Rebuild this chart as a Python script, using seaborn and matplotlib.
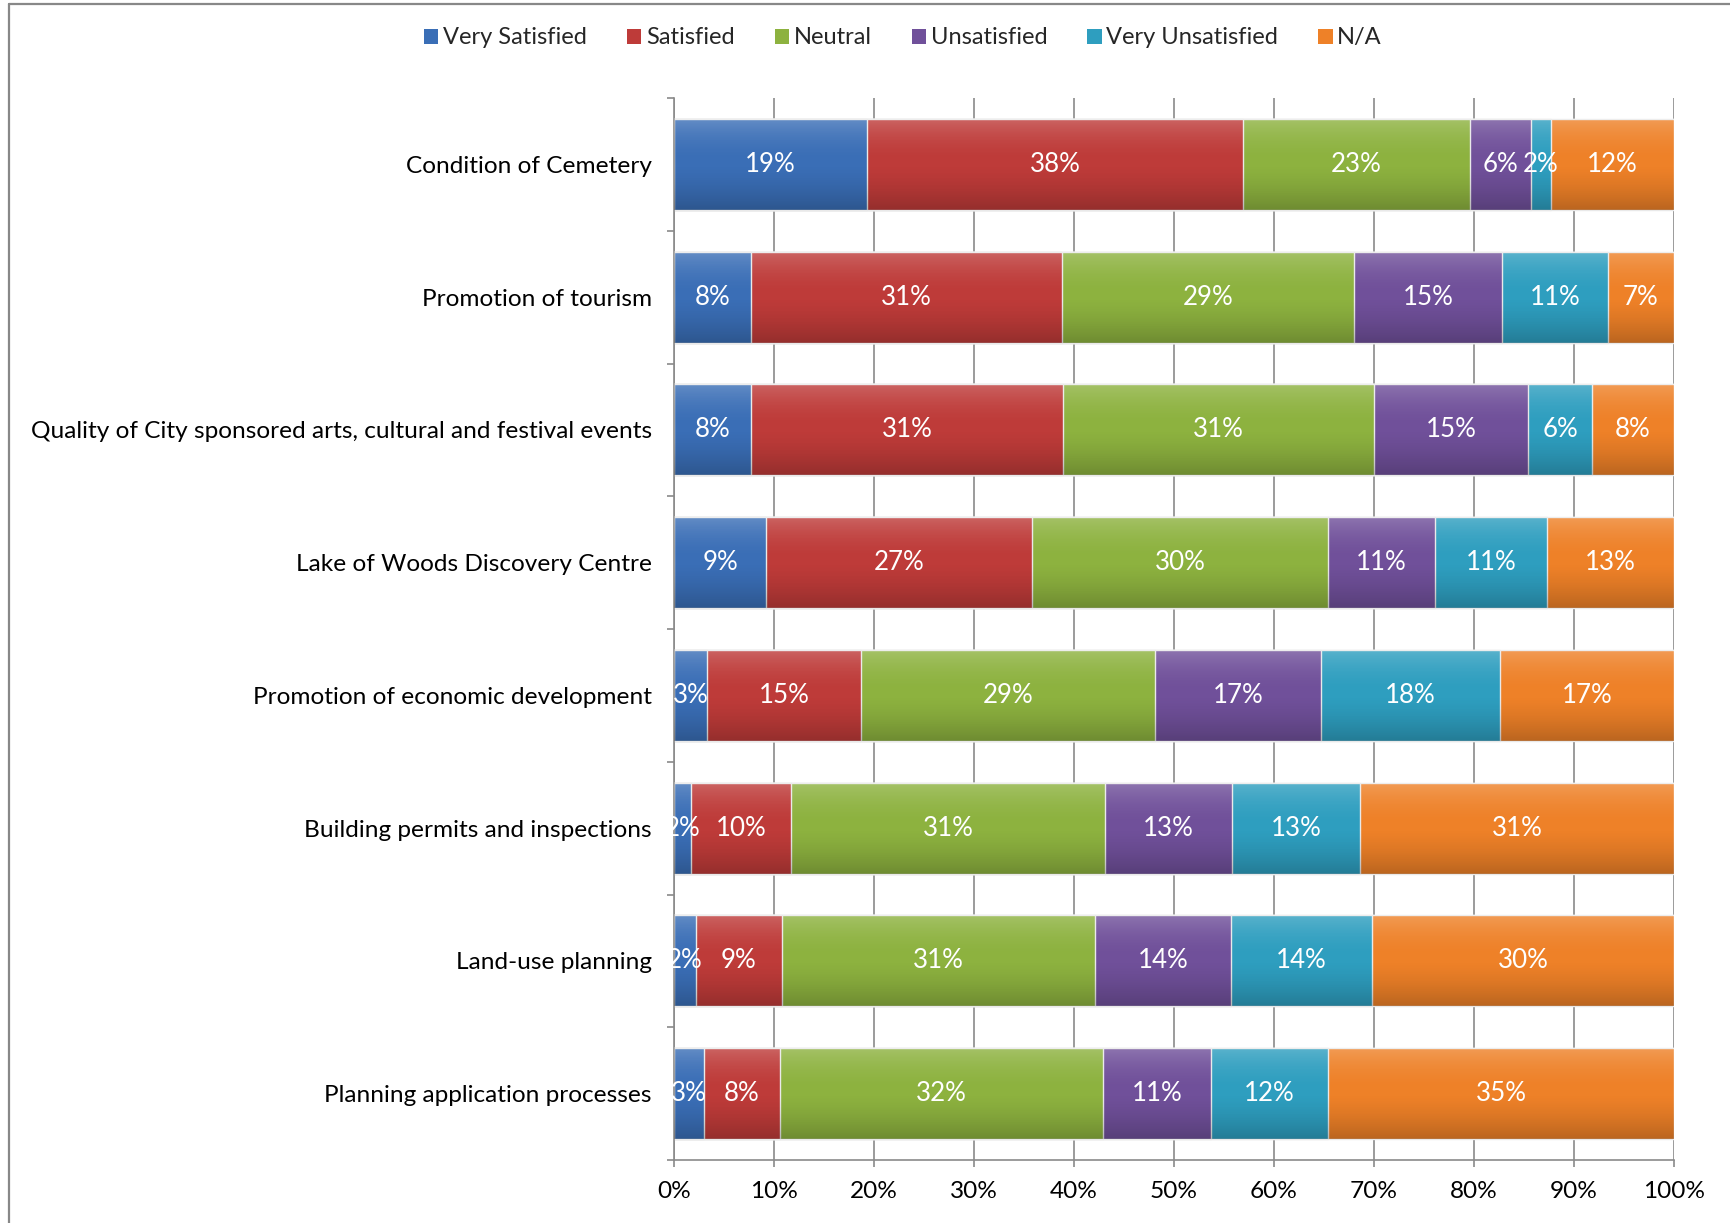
import numpy as np
import pandas as pd
import matplotlib
matplotlib.use("Agg")
import matplotlib.pyplot as plt
from matplotlib.patches import Patch
from matplotlib.lines import Line2D
import seaborn as sns

categories = [
    "Condition of Cemetery",
    "Promotion of tourism",
    "Quality of City sponsored arts, cultural and festival events",
    "Lake of Woods Discovery Centre",
    "Promotion of economic development",
    "Building permits and inspections",
    "Land-use planning",
    "Planning application processes",
]
very_satisfied = [19.3, 7.7, 7.7, 9.2, 3.3, 1.7, 2.2, 3.0]
satisfied = [37.6, 31.1, 31.2, 26.6, 15.4, 10.0, 8.6, 7.6]
neutral = [22.7, 29.2, 31.1, 29.6, 29.4, 31.4, 31.3, 32.3]
unsatisfied = [6.1, 14.8, 15.4, 10.7, 16.6, 12.7, 13.6, 10.8]
very_unsatisfied = [2.0, 10.6, 6.4, 11.2, 17.9, 12.8, 14.1, 11.7]
not_applicable = [12.3, 6.6, 8.2, 12.7, 17.4, 31.4, 30.2, 34.6]

series_names = ["Very Satisfied", "Satisfied", "Neutral", "Unsatisfied",
                "Very Unsatisfied", "N/A"]
series_values = [very_satisfied, satisfied, neutral, unsatisfied,
                 very_unsatisfied, not_applicable]
colors = ["#3A6EB6", "#BE3B39", "#8DB23F", "#70509A", "#2E9EBF", "#EE8128"]
x_ticks = [0, 10, 20, 30, 40, 50, 60, 70, 80, 90, 100]
x_tick_labels = ["0%", "10%", "20%", "30%", "40%", "50%", "60%", "70%",
                 "80%", "90%", "100%"]

sns.set_theme(style="white")
plt.rcParams["font.family"] = ["Lato", "DejaVu Sans"]

FS = 17.6
FS_VAL = 18.6
fig = plt.figure(figsize=(17.3, 12.23), dpi=100)
ax = fig.add_axes([674 / 1730, 1 - 1160 / 1223, 1000 / 1730, (1160 - 98) / 1223])

df = pd.DataFrame({n: v for n, v in zip(series_names, series_values)})
df["category"] = categories
cum = df[series_names].cumsum(axis=1)

bar_w = 0.686
for i in range(len(series_names) - 1, -1, -1):
    name = series_names[i]
    sns.barplot(x=cum[name], y=df["category"], color=colors[i], orient="h",
                width=bar_w, ax=ax, saturation=1, edgecolor="#e9e9e9",
                linewidth=1.0, zorder=2)

# gentle vertical shading over each row (bevel look)
n = 200
t = np.linspace(0, 1, n)
rgba = np.zeros((n, 1, 4))
top = t < 0.5
rgba[top, 0, :3] = 1.0
rgba[top, 0, 3] = 0.22 * (1 - t[top] / 0.5) ** 2
rgba[~top, 0, :3] = 0.0
rgba[~top, 0, 3] = 0.22 * ((t[~top] - 0.5) / 0.5) ** 1.5
for j in range(len(categories)):
    ax.imshow(rgba, extent=(0, cum.iloc[j, -1], j + bar_w / 2, j - bar_w / 2),
              aspect="auto", zorder=3, interpolation="bilinear")

# value labels
for i, name in enumerate(series_names):
    starts = cum[name] - df[name]
    for j in range(len(categories)):
        v = df[name].iloc[j]
        ax.text(starts.iloc[j] + v / 2, j, f"{v:.0f}%", ha="center",
                va="center", color="white", fontsize=FS_VAL, zorder=4)

ax.set_xlim(0, 100)
ax.set_ylim(len(categories) - 0.5, -0.5)
ax.set_xticks(x_ticks)
ax.set_xticklabels(x_tick_labels, fontsize=FS, color="black")
ax.set_yticks(range(len(categories)))
ax.set_yticklabels(categories, fontsize=FS, color="black")
ax.set_yticks(np.arange(-0.5, len(categories), 1.0), minor=True)
ax.set_xlabel("")
ax.set_ylabel("")

grid_c = "#8a8a8a"
ax.grid(axis="x", color=grid_c, linewidth=1.2, zorder=0)
ax.set_axisbelow(True)
for s in ["top", "right"]:
    ax.spines[s].set_visible(False)
for s in ["left", "bottom"]:
    ax.spines[s].set_visible(True)
    ax.spines[s].set_color(grid_c)
    ax.spines[s].set_linewidth(1.2)
ax.tick_params(axis="y", which="major", length=0, pad=16)
ax.tick_params(axis="y", which="minor", left=True, length=5, width=1.2,
               color=grid_c, direction="out")
ax.tick_params(axis="x", which="major", bottom=True, length=5, width=1.2,
               color=grid_c, direction="out", pad=10)

handles = [Patch(facecolor=c, edgecolor="none") for c in colors]
fig.legend(handles, series_names, loc="center", bbox_to_anchor=(0.522, 0.969),
           ncol=6, frameon=False, fontsize=17, handlelength=0.6,
           handleheight=0.6, handletextpad=0.2, columnspacing=1.7)

# outer chart frame (top and left edges visible)
fig.add_artist(Line2D([8.5 / 1730, 8.5 / 1730], [0, 1 - 4 / 1223],
                      transform=fig.transFigure, color="#888888", lw=1.6))
fig.add_artist(Line2D([8.5 / 1730, 1], [1 - 4 / 1223, 1 - 4 / 1223],
                      transform=fig.transFigure, color="#888888", lw=1.6))

fig.savefig("out.png", dpi=100)
